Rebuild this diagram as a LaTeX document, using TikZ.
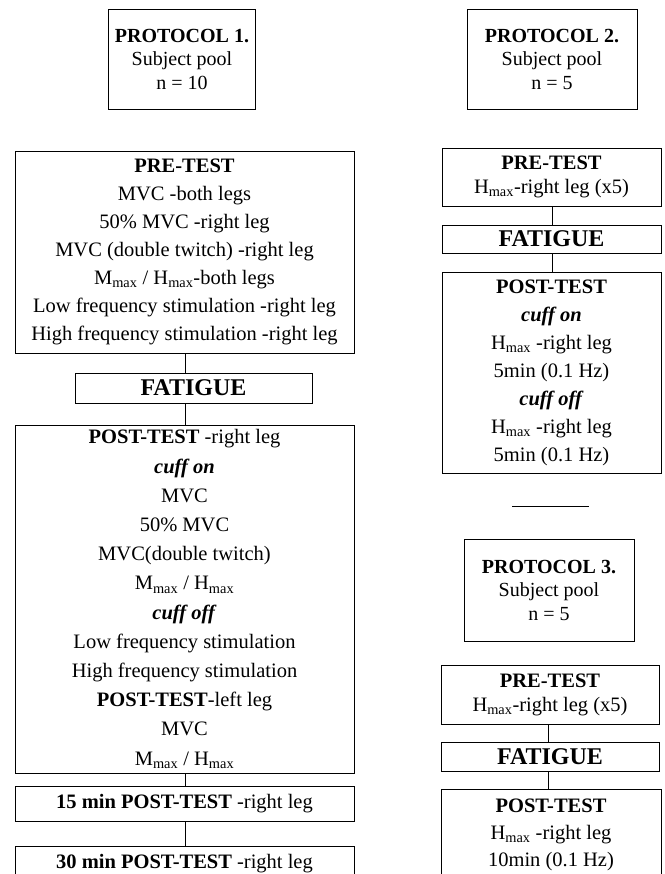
\documentclass[tikz,border=0pt]{standalone}
\usepackage{fontspec}
\setmainfont{Liberation Serif}
\begin{document}
\begin{tikzpicture}[x=1pt,y=-1pt,
  box/.style={draw, line width=0.9pt, inner sep=0pt, align=center, anchor=center},
  body/.style={font=\fontsize{20.5}{28}\selectfont},
  prot/.style={font=\fontsize{20}{23.5}\selectfont},
  fat/.style={font=\fontsize{24}{26}\selectfont\bfseries},
  conn/.style={line width=0.9pt}]
\useasboundingbox (0,0) rectangle (664,874);
\clip (0,0) rectangle (664,874);

% ---------- Protocol 1 column ----------
\node[box, prot, minimum width=147pt, minimum height=100pt] (p1) at (182,59)
  {\textbf{PROTOCOL 1.}\\Subject pool\\n = 10};

\node[box, body, minimum width=339pt, minimum height=202pt] (pre1) at (184.5,252)
  {\textbf{PRE-TEST}\\MVC -both legs\\50\% MVC -right leg\\MVC (double twitch) -right leg\\
   M\textsubscript{max} / H\textsubscript{max}-both legs\\Low frequency stimulation -right leg\\
   High frequency stimulation -right leg};

\node[box, fat, minimum width=237pt, minimum height=30pt] (fat1) at (193.5,388) {FATIGUE};

\node[box, font=\fontsize{20.5}{29.2}\selectfont, minimum width=339pt, minimum height=348pt] (post1) at (184.5,599)
  {\textbf{POST-TEST} -right leg\\\textbf{\textit{cuff on}}\\MVC\\50\% MVC\\MVC(double twitch)\\
   M\textsubscript{max} / H\textsubscript{max}\\\textbf{\textit{cuff off}}\\Low frequency stimulation\\
   High frequency stimulation\\\textbf{POST-TEST}-left leg\\MVC\\M\textsubscript{max} / H\textsubscript{max}};

\node[box, body, minimum width=339pt, minimum height=35pt] (m15) at (184.5,803.5)
  {\textbf{15 min POST-TEST} -right leg};
\node[box, body, minimum width=339pt, minimum height=36pt] (m30) at (184.5,864)
  {\textbf{30 min POST-TEST} -right leg};

\coordinate (cl) at (185,0);
\draw[conn] (pre1.south -| cl) -- (fat1.north -| cl);
\draw[conn] (fat1.south -| cl) -- (post1.north -| cl);
\draw[conn] (post1.south -| cl) -- (m15.north -| cl);
\draw[conn] (m15.south -| cl) -- (m30.north -| cl);

% ---------- Protocol 2 column ----------
\node[box, prot, minimum width=170pt, minimum height=100pt] (p2) at (552,59)
  {\textbf{PROTOCOL 2.}\\Subject pool\\n = 5};

\node[box, font=\fontsize{20.5}{24}\selectfont, minimum width=219pt, minimum height=58pt] (pre2) at (551.5,177)
  {\textbf{PRE-TEST}\\H\textsubscript{max}-right leg (x5)};
\node[box, fat, minimum width=219pt, minimum height=28pt] (fat2) at (551.5,239) {FATIGUE};
\node[box, body, minimum width=219pt, minimum height=201pt] (post2) at (551.5,372.5)
  {\textbf{POST-TEST}\\\textbf{\textit{cuff on}}\\H\textsubscript{max} -right leg\\5min (0.1 Hz)\\
   \textbf{\textit{cuff off}}\\H\textsubscript{max} -right leg\\5min (0.1 Hz)};

\coordinate (cr) at (552,0);
\draw[conn] (pre2.south -| cr) -- (fat2.north -| cr);
\draw[conn] (fat2.south -| cr) -- (post2.north -| cr);

\draw[conn] (512,506) -- (589,506);

% ---------- Protocol 3 column ----------
\node[box, prot, minimum width=170pt, minimum height=102pt] (p3) at (549,590)
  {\textbf{PROTOCOL 3.}\\Subject pool\\n = 5};
\node[box, font=\fontsize{20.5}{24}\selectfont, minimum width=218pt, minimum height=59pt] (pre3) at (550,694.5)
  {\textbf{PRE-TEST}\\H\textsubscript{max}-right leg (x5)};
\node[box, fat, minimum width=218pt, minimum height=29pt] (fat3) at (550,756.5) {FATIGUE};
\node[box, font=\fontsize{20.5}{27}\selectfont, minimum width=220pt, minimum height=91pt] (post3) at (551,834.5)
  {\textbf{POST-TEST}\\H\textsubscript{max} -right leg\\10min (0.1 Hz)};

\coordinate (cr3) at (548,0);
\draw[conn] (pre3.south -| cr3) -- (fat3.north -| cr3);
\draw[conn] (fat3.south -| cr3) -- (post3.north -| cr3);
\end{tikzpicture}
\end{document}
